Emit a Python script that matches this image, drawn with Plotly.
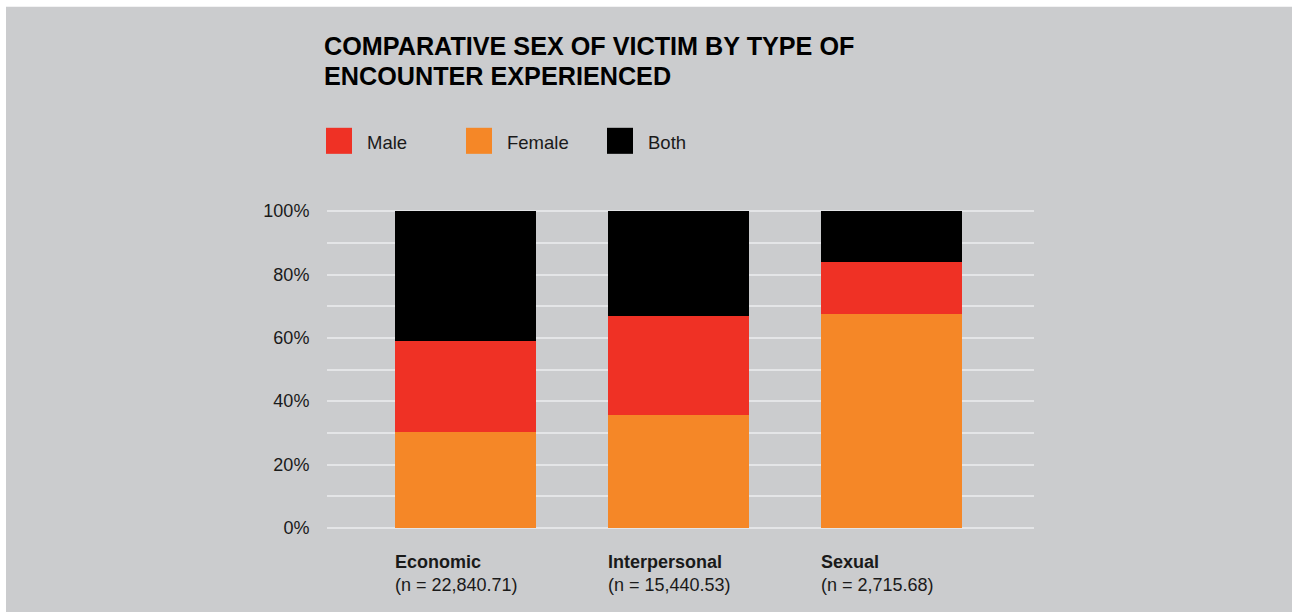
import plotly.graph_objects as go

# Data: share of victims (%) by encounter type
categories = ["Economic", "Interpersonal", "Sexual"]
sample_sizes = [22840.71, 15440.53, 2715.68]
female = [30.2, 35.6, 67.6]
male = [28.8, 31.3, 16.4]
both = [41.0, 33.1, 16.0]
tick_values = [0, 20, 40, 60, 80, 100]
tick_labels = ["0%", "20%", "40%", "60%", "80%", "100%"]
title_lines = ["COMPARATIVE SEX OF VICTIM BY TYPE OF", "ENCOUNTER EXPERIENCED"]

series = [
    ("Male", male, "#EF3125"),
    ("Female", female, "#F58727"),
    ("Both", both, "#000000"),
]
stack_order = ["Female", "Male", "Both"]

W, H = 1292, 612
BG = "#CBCCCE"
GRID = "#E4E5E7"
TEXT = "#1a1a1a"
FONT = "Liberation Sans, Arial, Helvetica, sans-serif"

# plot area in pixels
PL, PR = 327, 1034
PT, PB = 208.1, 530.7
pw, ph = PR - PL, PB - PT

x_pos = list(range(len(categories)))
bar_w = 0.662
x_range = [-0.650, 2.669]


def px_x(px):
    return (px - PL) / pw


def px_y(py):
    return (PB - py) / ph


fig = go.Figure()
lookup = {name: (vals, col) for name, vals, col in series}
for name in stack_order:
    vals, col = lookup[name]
    fig.add_trace(go.Bar(
        x=x_pos, y=vals, name=name, width=bar_w,
        marker=dict(color=col, line=dict(width=0)),
        showlegend=False, hoverinfo="skip",
    ))

shapes = [
    # background panel with a thin white border on top and left
    dict(type="rect", xref="paper", yref="paper", layer="below",
         x0=px_x(6), x1=px_x(W + 5), y0=px_y(H + 5), y1=px_y(7),
         fillcolor=BG, line=dict(width=0)),
]
annotations = []

# title, one annotation per line for tight line spacing
for i, line in enumerate(title_lines):
    annotations.append(dict(
        text=f"<b>{line}</b>", xref="paper", yref="paper",
        x=px_x(322), y=px_y(30 + 30.3 * i), xanchor="left", yanchor="top",
        showarrow=False, font=dict(family=FONT, size=25.2, color="#000000")))

# legend: swatches and labels
legend_x = [326, 466, 607]
for (name, _, col), lx in zip(series, legend_x):
    shapes.append(dict(type="rect", xref="paper", yref="paper",
                       x0=px_x(lx), x1=px_x(lx + 26),
                       y0=px_y(154), y1=px_y(128),
                       fillcolor=col, line=dict(width=0)))
    annotations.append(dict(text=name, xref="paper", yref="paper",
                            x=px_x(lx + 39), y=px_y(142.5),
                            xanchor="left", yanchor="middle", showarrow=False,
                            font=dict(family=FONT, size=18.5, color=TEXT)))

# category labels under each bar
for xp, cat, n in zip(x_pos, categories, sample_sizes):
    annotations.append(dict(
        text=f"<b>{cat}</b><br>(n = {n:,.2f})",
        xref="x", yref="paper", x=xp - bar_w / 2, y=px_y(549.5), xshift=-2,
        xanchor="left", yanchor="top", align="left", showarrow=False,
        font=dict(family=FONT, size=18, color=TEXT)))

fig.update_layout(
    width=W, height=H,
    margin=dict(l=PL, r=W - PR, t=PT, b=H - PB, pad=0),
    paper_bgcolor="#FFFFFF", plot_bgcolor=BG,
    barmode="stack", bargap=0,
    xaxis=dict(range=x_range, showticklabels=False, showgrid=False,
               zeroline=False, showline=False, ticks=""),
    yaxis=dict(range=[-1, 101], tickvals=tick_values, ticktext=tick_labels,
               showgrid=True, gridcolor=GRID, gridwidth=2.2,
               minor=dict(dtick=10, showgrid=True, gridcolor=GRID, gridwidth=2.2),
               zeroline=False, showline=False,
               ticks="outside", ticklen=13, tickcolor="rgba(0,0,0,0)",
               tickfont=dict(family=FONT, size=18, color=TEXT)),
    shapes=shapes, annotations=annotations,
    font=dict(family=FONT),
)

fig.write_html("out.html")
